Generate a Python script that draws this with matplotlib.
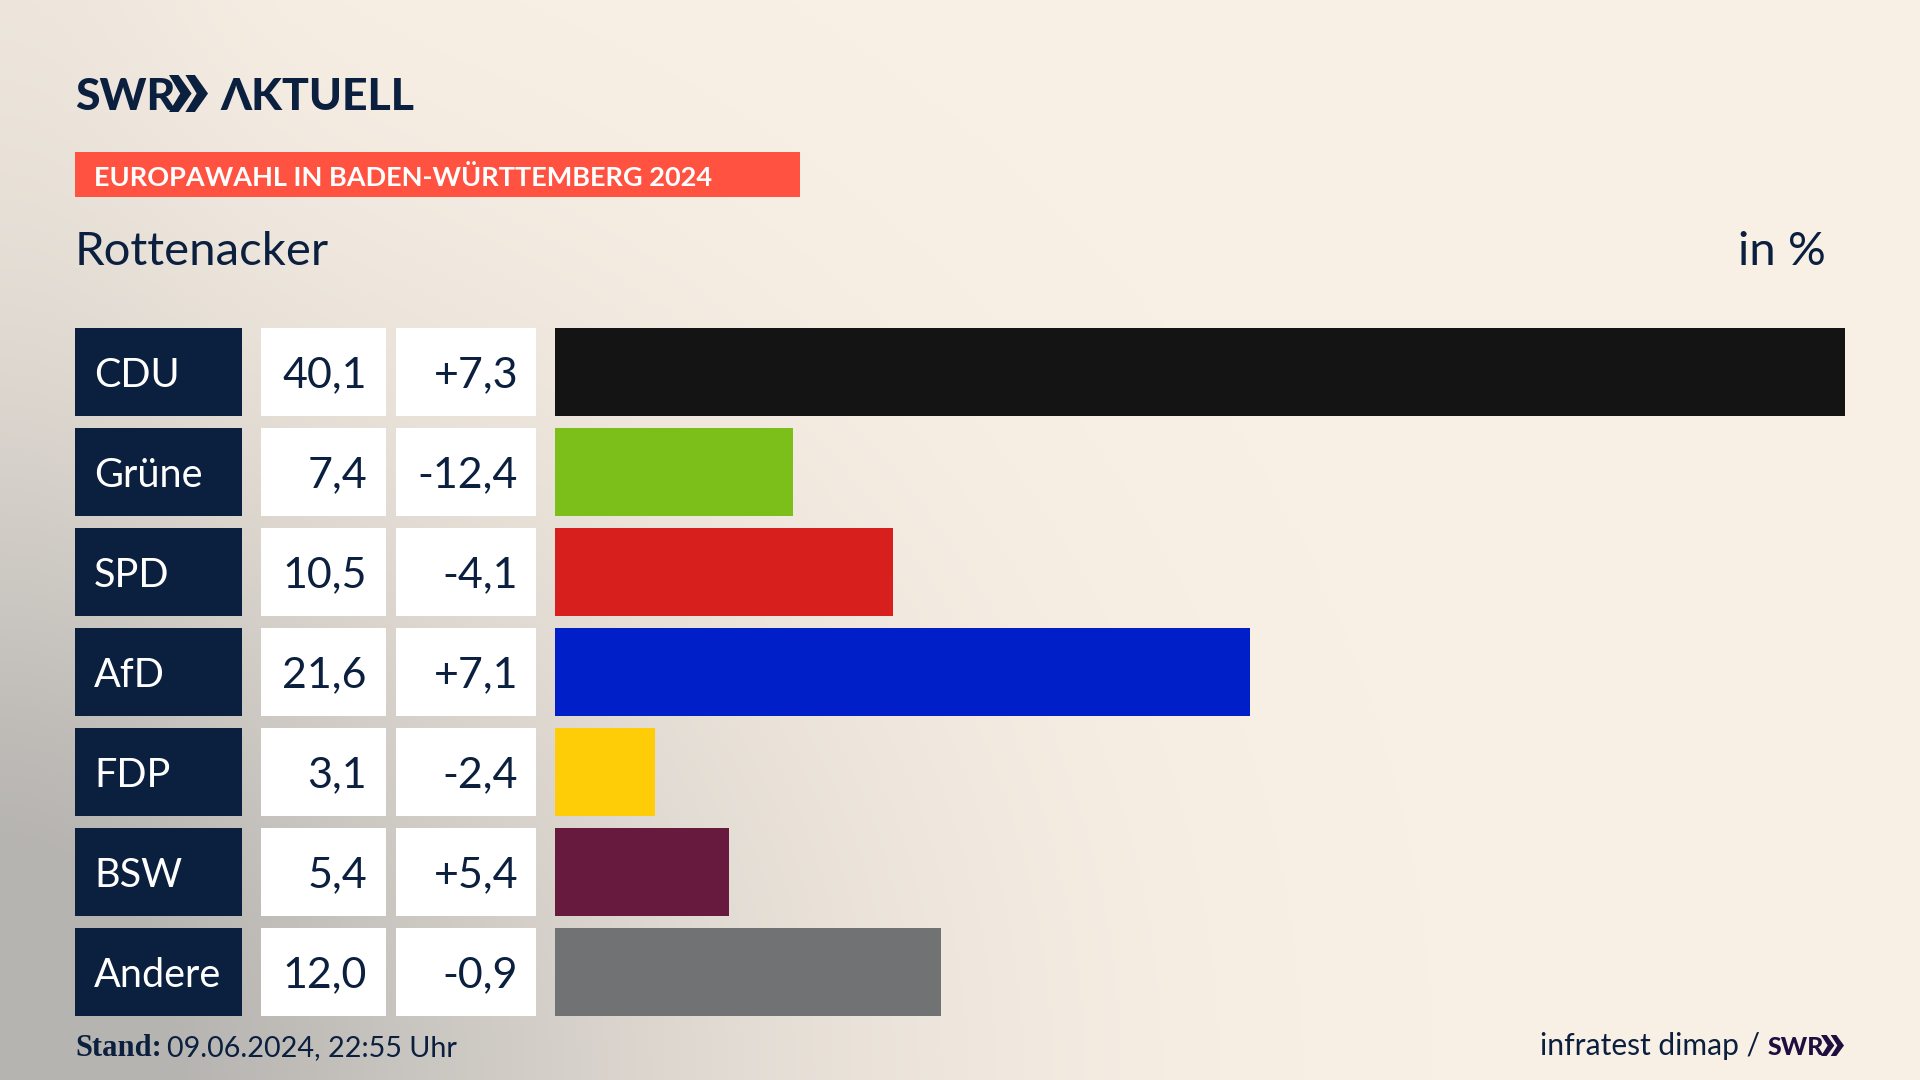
import numpy as np
import matplotlib
matplotlib.use("Agg")
import matplotlib.pyplot as plt
from matplotlib.patches import Polygon, Rectangle

# Data
parties = ["CDU", "Grüne", "SPD", "AfD", "FDP", "BSW", "Andere"]
shares = [40.1, 7.4, 10.5, 21.6, 3.1, 5.4, 12.0]
changes = ["+7,3", "-12,4", "-4,1", "+7,1", "-2,4", "+5,4", "-0,9"]
bar_colors = ["#141414", "#7CBE1A", "#D7201D", "#001FC8", "#FFCC08", "#68193E", "#707274"]

NAVY = "#0B1F3F"
PURPLE = "#1E0F40"
plt.rcParams['font.family'] = ['Lato', 'DejaVu Sans']

W, H = 1920, 1080
fig = plt.figure(figsize=(19.2, 10.8), dpi=100)

# page axes in pixel coordinates
page = fig.add_axes([0, 0, 1, 1])
page.set_xlim(0, W)
page.set_ylim(H, 0)
page.axis("off")

# background, cream with a grey glow out of the lower left corner
yy, xx = np.mgrid[0:H:270j, 0:W:480j]
glow = np.exp(-((xx / 720) ** 2 + ((H - yy) / 650) ** 2))
glow = glow + 0.12 * np.exp(-((xx / 200) ** 2))
glow = np.clip(glow, 0, 1)[..., None]
cream = np.array([250, 241, 230]) / 255
grey = np.array([182, 180, 177]) / 255
page.imshow(cream * (1 - glow) + grey * glow, extent=[0, W, H, 0], aspect="auto", zorder=0)


def chevrons(x, top, bottom, width, color):
    # the two arrows of the SWR logo
    mid = (top + bottom) / 2
    w = width * 0.58
    for off in (0, width - w):
        pts = [(x + off, top), (x + off + w * 0.42, top), (x + off + w, mid),
               (x + off + w * 0.42, bottom), (x + off, bottom), (x + off + w * 0.5, mid)]
        page.add_patch(Polygon(pts, closed=True, color=color, lw=0, zorder=3))


# logo
page.text(75, 110, "SWR", fontsize=32, fontweight="black", color=NAVY, va="baseline")
chevrons(169, 75, 112, 39, NAVY)
page.text(220, 110, "ΛKTUELL", fontsize=32, fontweight="black", color=NAVY, va="baseline")

# headline
page.add_patch(Rectangle((75, 152), 725, 45, color="#FF5240", lw=0, zorder=2))
page.text(94, 175, "EUROPAWAHL IN BADEN-WÜRTTEMBERG 2024", fontsize=19.5, fontweight="bold",
          color="white", va="center_baseline", zorder=3)
page.text(75, 248, "Rottenacker", fontsize=34, color=NAVY, va="center_baseline")
page.text(1826, 248, "in %", fontsize=34, color=NAVY, ha="right", va="center_baseline")


def row_axes(left, right):
    # axes for one column, all rows on the same scale
    top, bottom = 322, 1022
    ax = fig.add_axes([left / W, 1 - bottom / H, (right - left) / W, (bottom - top) / H])
    ax.set_ylim(6.5, -0.5)
    ax.axis("off")
    ax.patch.set_alpha(0)
    return ax


rows = np.arange(len(parties))
BAR_H = 0.885

ax_name = row_axes(75, 242)
ax_name.set_xlim(0, 1)
ax_name.barh(rows, [1] * len(rows), height=BAR_H, color=NAVY)

ax_val = row_axes(261, 386)
ax_val.set_xlim(0, 1)
ax_val.barh(rows, [1] * len(rows), height=BAR_H, color="white")

ax_diff = row_axes(396, 536)
ax_diff.set_xlim(0, 1)
ax_diff.barh(rows, [1] * len(rows), height=BAR_H, color="white")

ax_bar = row_axes(555, 1845)
ax_bar.set_xlim(0, max(shares))
ax_bar.barh(rows, shares, height=BAR_H, color=bar_colors)

for i in rows:
    ax_name.text(19 / 167, i, parties[i], fontsize=28.5, color="white", va="center_baseline")
    ax_val.text(106 / 125, i, f"{shares[i]:.1f}".replace(".", ","), fontsize=31, color=NAVY,
                ha="right", va="center_baseline")
    ax_diff.text(122 / 140, i, changes[i], fontsize=31, color=NAVY, ha="right", va="center_baseline")

# footer
page.text(75, 1056, "Stand:", fontsize=22, fontweight="bold", color=NAVY,
          family=['Liberation Serif'], va="baseline")
page.text(167, 1056, "09.06.2024, 22:55 Uhr", fontsize=20.7, color=NAVY, va="baseline")
page.text(1760, 1055, "infratest dimap /", fontsize=21.6, color=NAVY, ha="right", va="baseline")
page.text(1768, 1055, "SWR", fontsize=18, fontweight="black", color=PURPLE, va="baseline")
chevrons(1821, 1035, 1056, 23, PURPLE)

fig.savefig("out.png", dpi=100)
